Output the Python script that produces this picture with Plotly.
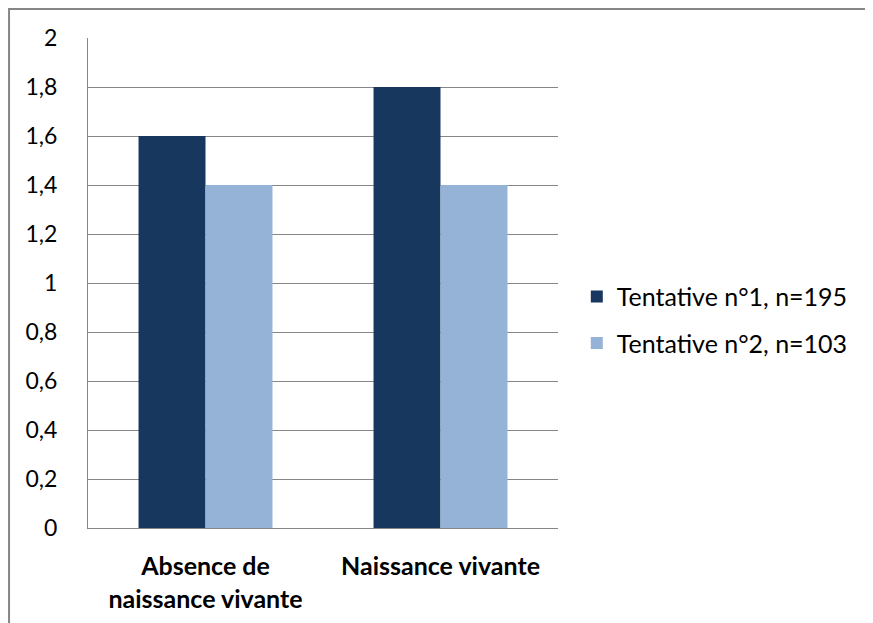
import plotly.graph_objects as go

categories = ["<b>Absence de</b><br><b>naissance vivante</b>", "<b>Naissance vivante</b>"]
series_names = ["Tentative n°1, n=195", "Tentative n°2, n=103"]
tentative1 = [1.6, 1.8]
tentative2 = [1.4, 1.4]
y_ticks = [0, 0.2, 0.4, 0.6, 0.8, 1, 1.2, 1.4, 1.6, 1.8, 2]

colors = ["#17375E", "#95B3D7"]
font = "Lato, Open Sans, sans-serif"

fig = go.Figure()
for name, vals, col, grp in zip(series_names, [tentative1, tentative2], colors, ["a", "b"]):
    fig.add_trace(go.Bar(x=categories, y=vals, name=name, marker_color=col,
                         marker_line_width=0, legendgroup=grp))

# page body adds an 8px offset, so margins are 8px smaller than the screen positions
fig.update_layout(
    width=873, height=623,
    margin=dict(l=80, r=323, t=30, b=103),
    plot_bgcolor="white", paper_bgcolor="white",
    separators=", ",
    bargap=0.43, bargroupgap=0,
    font=dict(family=font, size=23, color="black"),
    legend=dict(x=1.04, y=0.425, xanchor="left", yanchor="middle",
                font=dict(size=25), tracegroupgap=11, traceorder="grouped",
                itemwidth=30),
    showlegend=True,
)
fig.update_yaxes(range=[0, 2], tickvals=y_ticks, showgrid=True, gridcolor="#868686",
                 gridwidth=1, showline=True, linecolor="#868686", linewidth=1,
                 zeroline=False, ticks="", ticklabelstandoff=25)
fig.update_xaxes(showline=True, linecolor="#868686", linewidth=1, ticks="",
                 tickfont=dict(size=25), ticklabelstandoff=16)

# outer chart frame (top and left edges visible)
fig.add_shape(type="rect", xref="paper", yref="paper",
              x0=-0.168, x1=2, y0=-1, y1=1.059,
              line=dict(color="#868686", width=2), layer="below")

fig.write_html("out.html")
